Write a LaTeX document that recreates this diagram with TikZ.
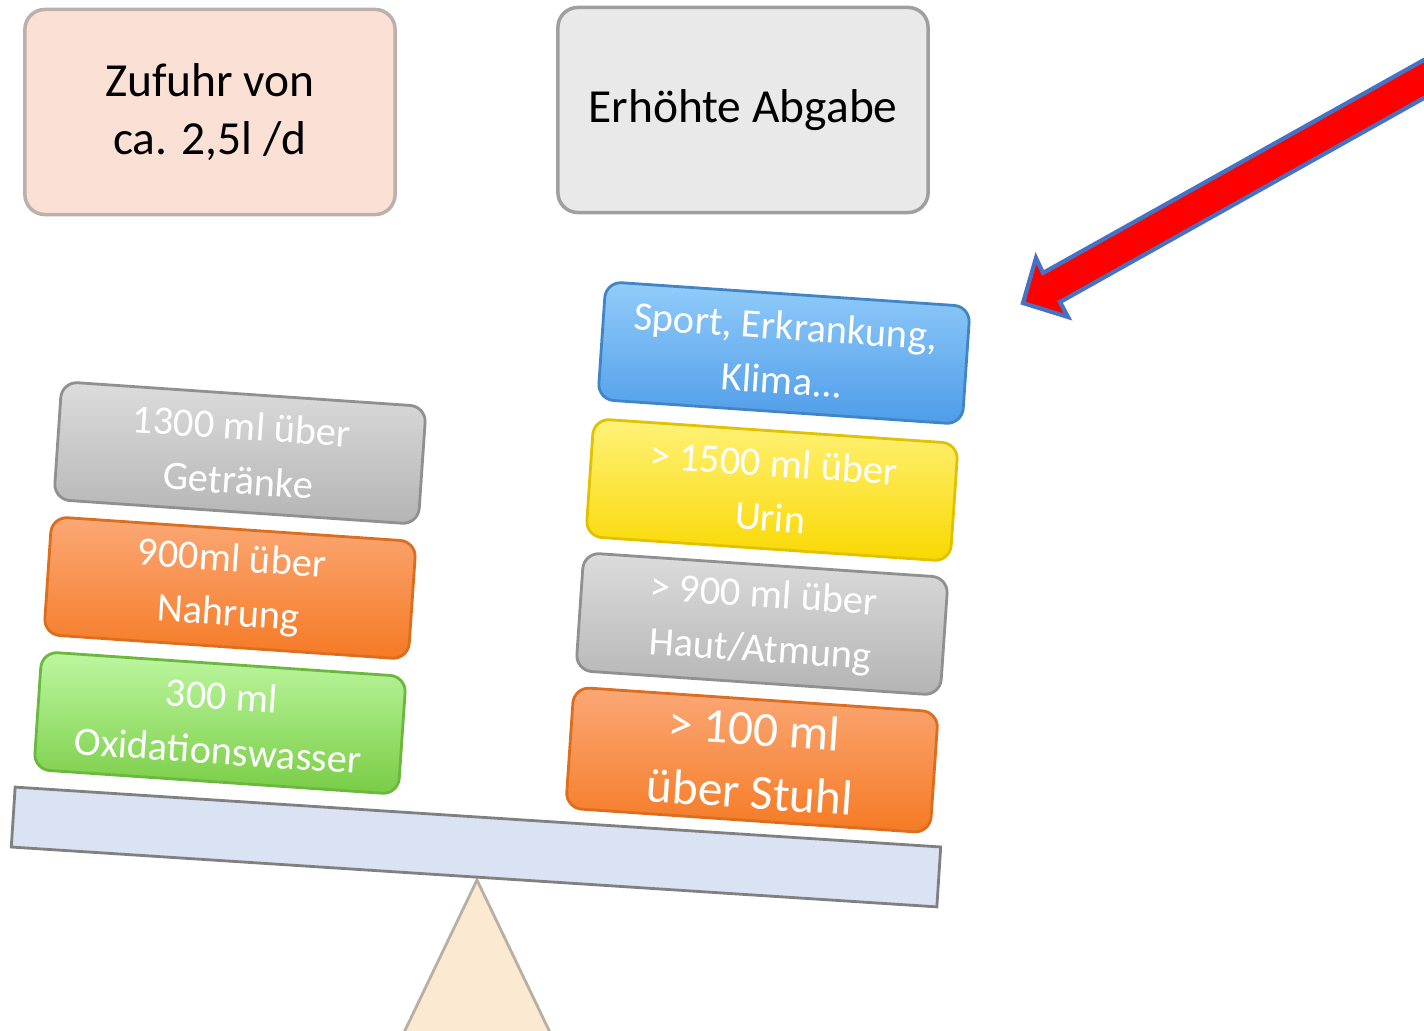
\documentclass[tikz,border=0pt]{standalone}
\usepackage{fontspec}
\setmainfont{Carlito}
\definecolor{pinkfill}{HTML}{FBE0D6}
\definecolor{lightgray}{HTML}{E9E9E9}
\definecolor{graytop}{HTML}{DCDCDC}
\definecolor{graybot}{HTML}{B4B4B4}
\definecolor{orangetop}{HTML}{FBA876}
\definecolor{orangebot}{HTML}{F57A24}
\definecolor{greentop}{HTML}{BDF7A0}
\definecolor{greenbot}{HTML}{78CC45}
\definecolor{bluetop}{HTML}{92CCFA}
\definecolor{bluebot}{HTML}{4E9CE8}
\definecolor{yellowtop}{HTML}{FFF27A}
\definecolor{yellowbot}{HTML}{F9D800}
\definecolor{beamfill}{HTML}{DAE3F3}
\definecolor{fulcrumfill}{HTML}{FCE9D2}
\definecolor{arrowblue}{HTML}{4472C4}
\begin{document}
\begin{tikzpicture}[x=0.01cm,y=-0.01cm]
      \tikzset{headbox/.style={draw=gray!75, line width=1pt, rounded corners=0.2cm, minimum width=3.7cm, minimum height=2.05cm, align=center, font=\fontsize{13.5}{16.5}\selectfont},
               weight/.style 2 args={draw=#2, line width=0.8pt, top color=#1top, bottom color=#1bot, rounded corners=0.16cm, minimum width=3.65cm, minimum height=1.18cm, rotate=-3.9, align=center, text=white, font=\fontsize{11.5}{15.5}\selectfont}}
      \useasboundingbox (0,0) rectangle (1424,1031);
%% Headings
      	\node[headbox, fill=pinkfill, draw=pinkfill!50!gray] (intake) at (210,112) {Zufuhr von\\ca. 2,5l /d};
      	\node[headbox, fill=lightgray] (output) at (743,110) {Erhöhte Abgabe};
%% Scale
      	\path[draw=fulcrumfill!45!gray, fill=fulcrumfill, line width=0.8pt] (477,880) -- (398,1045) -- (556,1045) -- cycle;
      	\node[draw=gray, line width=0.8pt, fill=beamfill, minimum width=9.27cm, minimum height=0.6cm, rotate=-3.7] (beam) at (476,847) {};
%% Left side
      	\node[weight={gray}{graybot!80!black}] (drinks) at (240,453) {1300 ml über\\Getränke};
      	\node[weight={orange}{orangebot!90!black}] (food) at (230,588) {900ml über\\Nahrung};
      	\node[weight={green}{greenbot!90!black}] (oxid) at (220,723) {300 ml\\Oxidationswasser};
%% Right side
      	\node[weight={blue}{bluebot!85!black}] (sport) at (784,353) {Sport, Erkrankung,\\Klima...};
      	\node[weight={yellow}{yellowbot!90!black}] (urine) at (772,490) {> 1500 ml über\\Urin};
      	\node[weight={gray}{graybot!80!black}] (skin) at (762,624) {> 900 ml über\\Haut/Atmung};
      	\node[weight={orange}{orangebot!90!black}, font=\fontsize{14}{18}\selectfont] (stool) at (752,760) {> 100 ml\\über Stuhl};
%% Arrow
      	\coordinate (tip) at (1023,303);
      	\path[draw=arrowblue, line width=1.2pt, fill=red] (1440,51) -- (1043,273) -- (1036,258) -- (tip) -- (1068,317) -- (1060,302) -- (1440,89) -- cycle;
	\end{tikzpicture}
\end{document}
